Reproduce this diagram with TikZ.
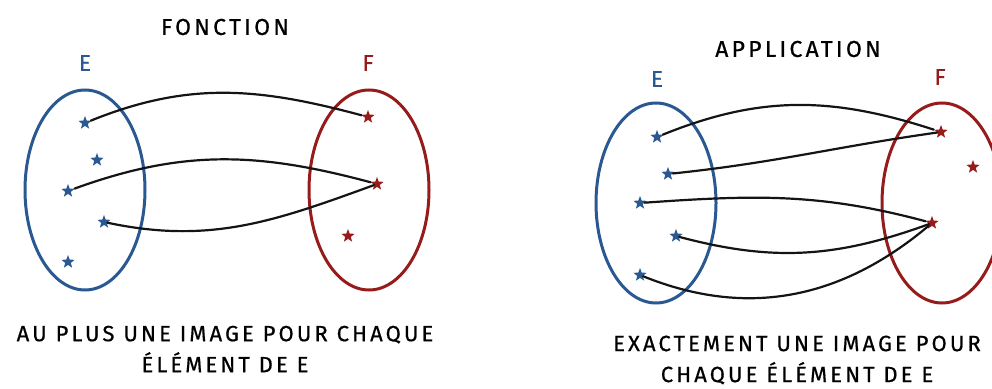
\documentclass[tikz,border=0pt]{standalone}
\usepackage{fontspec}
\setmainfont{Fira Sans}
\newfontfamily\handfont[LetterSpace=14,FakeBold=0.6]{Fira Sans}
\usetikzlibrary{shapes.geometric}
\definecolor{setblue}{RGB}{42,88,145}
\definecolor{setred}{RGB}{150,28,28}

\begin{document}
\begin{tikzpicture}[
  x=1pt,y=1pt,
  font=\handfont\fontsize{23}{27}\selectfont,
  set/.style={draw,ellipse,line width=3pt,minimum width=120pt,minimum height=200pt,inner sep=0pt},
  pt/.style={star,star points=5,star point ratio=2.4,minimum size=14pt,inner sep=0pt},
  elt/.style={pt,fill=setblue},
  img/.style={pt,fill=setred},
  link/.style={line width=2.2pt,black!92,line cap=round},
  caption/.style={align=center,font=\handfont\fontsize{22}{31}\selectfont}
]
\useasboundingbox (0,0) rectangle (992,388);

% Function: at most one image.
\node (titf) at (225,361) {FONCTION};
\node[text=setblue] (lEf) at (85,325) {E};
\node[text=setred] (lFf) at (368,325) {F};
\node[set,draw=setblue] (Ef) at (85,198) {};
\node[set,draw=setred] (Ff) at (369,198) {};
\node[elt] (ea1) at (85,265) {};
\node[elt] (ea2) at (97,228) {};
\node[elt] (ea3) at (68,197) {};
\node[elt] (ea4) at (104,166) {};
\node[elt] (ea5) at (68,126) {};
\node[img] (fa1) at (368,271) {};
\node[img] (fa2) at (377,204) {};
\node[img] (fa3) at (348,152) {};
\draw[link] (ea1) to[out=22,in=165] (fa1);
\draw[link] (ea3) to[out=20,in=165] (fa2);
\draw[link] (ea4) to[out=-12,in=200] (fa2);
\node[caption] (capf) at (225,39) {AU PLUS UNE IMAGE POUR CHAQUE\\ÉLÉMENT DE E};

% Application: exactly one image.
\node (tita) at (798,339) {APPLICATION};
\node[text=setblue] (lEa) at (657,309) {E};
\node[text=setred] (lFa) at (940,311) {F};
\node[set,draw=setblue] (Ea) at (656,185) {};
\node[set,draw=setred] (Fa) at (942,185) {};
\node[elt] (eb1) at (657,251) {};
\node[elt] (eb2) at (668,214) {};
\node[elt] (eb3) at (640,185) {};
\node[elt] (eb4) at (676,152) {};
\node[elt] (eb5) at (640,113) {};
\node[img] (fb1) at (941,256) {};
\node[img] (fb2) at (973,221) {};
\node[img] (fb3) at (932,165) {};
\draw[link] (eb1) to[out=22,in=162] (fb1);
\draw[link] (eb2) to[out=6,in=188] (fb1);
\draw[link] (eb3) to[out=4,in=165] (fb3);
\draw[link] (eb4) to[out=-15,in=200] (fb3);
\draw[link] (eb5) to[out=-22,in=220] (fb3);
\node[caption] (capa) at (797,28) {EXACTEMENT UNE IMAGE POUR\\CHAQUE ÉLÉMENT DE E};
\end{tikzpicture}
\end{document}
